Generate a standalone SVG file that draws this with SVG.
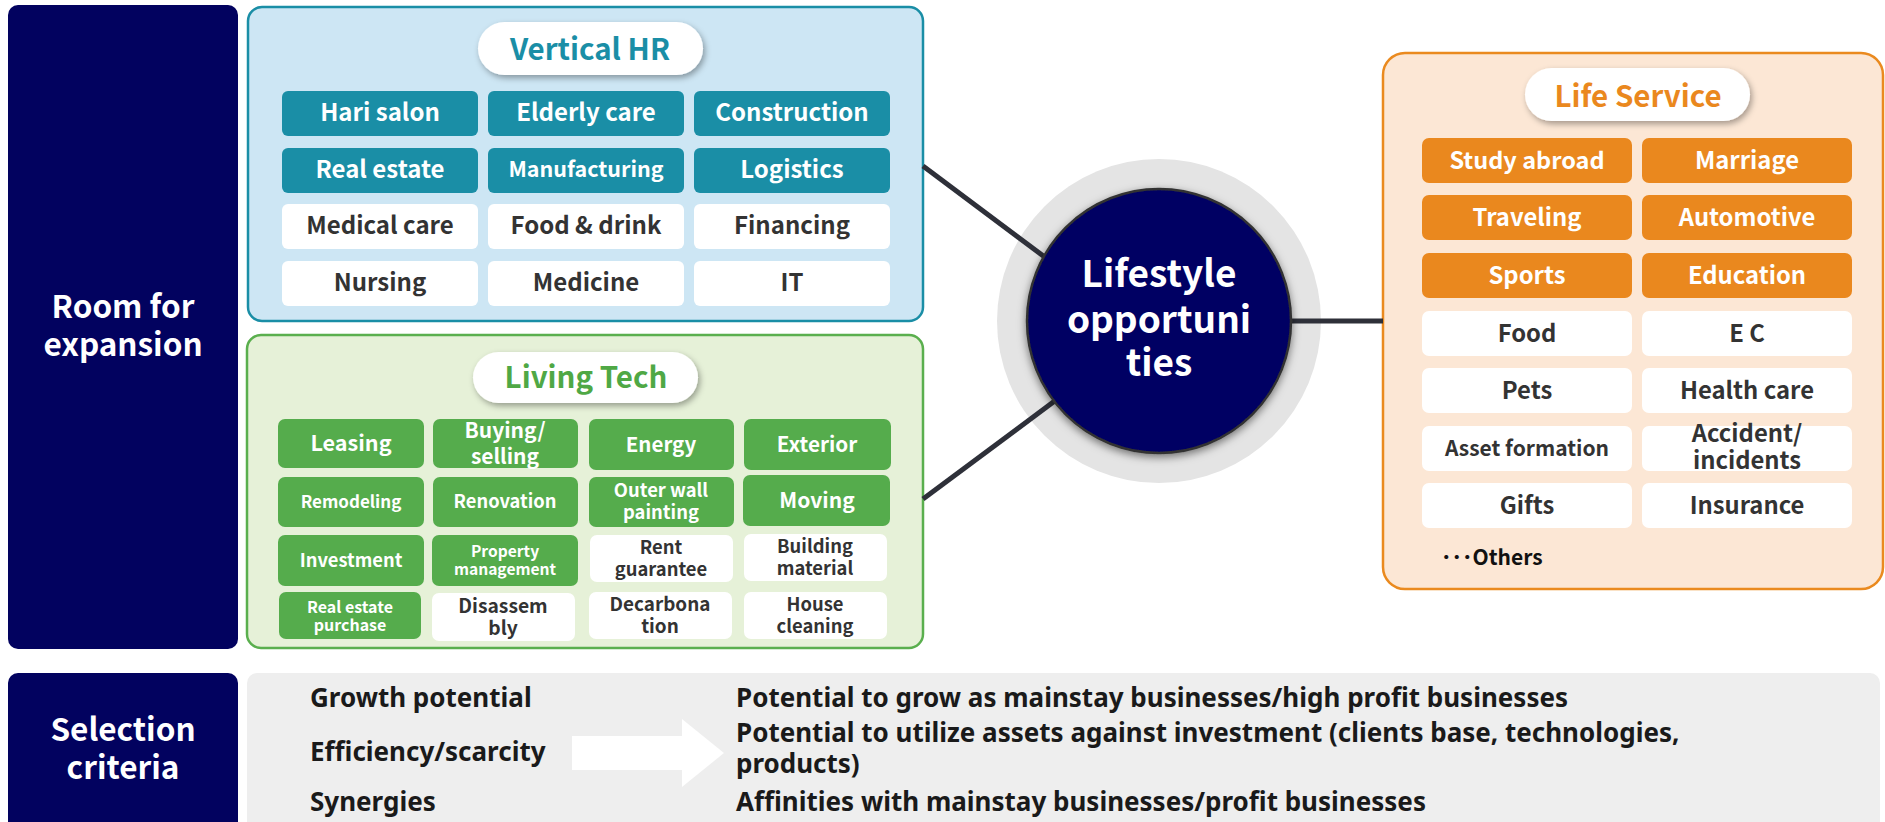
<svg xmlns="http://www.w3.org/2000/svg" width="1885" height="822" viewBox="0 0 1885 822">
<defs>
<filter id="sh" x="-20%" y="-30%" width="140%" height="170%"><feDropShadow dx="2" dy="3" stdDeviation="3" flood-color="#000" flood-opacity="0.35"/></filter>
<filter id="csh" x="-20%" y="-20%" width="140%" height="140%"><feDropShadow dx="0" dy="3" stdDeviation="4" flood-color="#000" flood-opacity="0.5"/></filter>
<style>
text{font-family:"Noto Sans CJK JP","Noto Sans",sans-serif;font-weight:700;text-anchor:middle}
.w{fill:#fff}.d{fill:#333}
.teal{fill:#1A8EA6}.grn{fill:#55AC4C}.org{fill:#EA881E}.wc{fill:#fff}
.navy{fill:#02025F}
.pill{fill:#fff;filter:url(#sh)}
.bt{font-family:"Noto Sans","Liberation Sans",sans-serif;font-size:26px;fill:#1a1a1a;text-anchor:start}
.conn{stroke:#2E3039;stroke-width:5;fill:none}
</style>
</defs>
<rect width="1885" height="822" fill="#fff"/>

<g id="room-for-expansion">
<rect class="navy" x="8" y="5" width="230" height="644" rx="10"/>
<text class="w" x="123" y="318" font-size="31.5">Room for</text>
<text class="w" x="123" y="356" font-size="31.5">expansion</text>
</g>

<g id="selection-criteria">
<rect class="navy" x="8" y="673" width="230" height="170" rx="10"/>
<text class="w" x="123" y="741" font-size="31.5">Selection</text>
<text class="w" x="123" y="779" font-size="31.5">criteria</text>
</g>

<g id="vertical-hr">
<rect x="248" y="7" width="675" height="314" rx="14" fill="#CDE6F4" stroke="#1A8EA6" stroke-width="2.5"/>
<rect class="pill" x="478" y="22" width="225" height="53" rx="26.5"/>
<text x="590" y="60" font-size="29.5" fill="#1A8EA6">Vertical HR</text>
<rect class="teal" x="282" y="91" width="196" height="45" rx="6"/>
<rect class="teal" x="488" y="91" width="196" height="45" rx="6"/>
<rect class="teal" x="694" y="91" width="196" height="45" rx="6"/>
<rect class="teal" x="282" y="148" width="196" height="45" rx="6"/>
<rect class="teal" x="488" y="148" width="196" height="45" rx="6"/>
<rect class="teal" x="694" y="148" width="196" height="45" rx="6"/>
<rect class="wc" x="282" y="204" width="196" height="45" rx="6"/>
<rect class="wc" x="488" y="204" width="196" height="45" rx="6"/>
<rect class="wc" x="694" y="204" width="196" height="45" rx="6"/>
<rect class="wc" x="282" y="261" width="196" height="45" rx="6"/>
<rect class="wc" x="488" y="261" width="196" height="45" rx="6"/>
<rect class="wc" x="694" y="261" width="196" height="45" rx="6"/>
<g font-size="24">
<text class="w" x="380" y="121">Hari salon</text>
<text class="w" x="586" y="121">Elderly care</text>
<text class="w" x="792" y="121">Construction</text>
<text class="w" x="380" y="178">Real estate</text>
<text class="w" x="586" y="177" font-size="21.5">Manufacturing</text>
<text class="w" x="792" y="178">Logistics</text>
<text class="d" x="380" y="234">Medical care</text>
<text class="d" x="586" y="234">Food &amp; drink</text>
<text class="d" x="792" y="234">Financing</text>
<text class="d" x="380" y="291">Nursing</text>
<text class="d" x="586" y="291">Medicine</text>
<text class="d" x="792" y="291">IT</text>
</g>
</g>

<g id="living-tech">
<rect x="247" y="335" width="676" height="313" rx="14" fill="#E6F1D8" stroke="#5AAF4E" stroke-width="2.5"/>
<rect class="pill" x="473" y="352" width="225" height="51" rx="25.5"/>
<text x="586" y="388" font-size="29.5" fill="#4FA845">Living Tech</text>
<rect class="grn" x="278" y="419" width="146" height="49" rx="7"/>
<rect class="grn" x="433" y="419" width="145" height="49" rx="7"/>
<rect class="grn" x="589" y="419" width="145" height="51" rx="7"/>
<rect class="grn" x="744" y="419" width="147" height="51" rx="7"/>
<rect class="grn" x="278" y="477" width="146" height="50" rx="7"/>
<rect class="grn" x="433" y="477" width="145" height="50" rx="7"/>
<rect class="grn" x="589" y="477" width="145" height="50" rx="7"/>
<rect class="grn" x="743" y="475" width="147" height="51" rx="7"/>
<rect class="grn" x="278" y="535" width="146" height="51" rx="7"/>
<rect class="grn" x="432" y="535" width="146" height="51" rx="7"/>
<rect class="wc" x="590" y="535" width="143" height="47" rx="7"/>
<rect class="wc" x="744" y="534" width="143" height="47" rx="7"/>
<rect class="grn" x="279" y="592" width="142" height="47" rx="7"/>
<rect class="wc" x="432" y="593" width="143" height="48" rx="7"/>
<rect class="wc" x="589" y="592" width="143" height="47" rx="7"/>
<rect class="wc" x="744" y="592" width="143" height="47" rx="7"/>
<text class="w" x="351" y="451" font-size="21.6">Leasing</text>
<text class="w" x="505" y="438" font-size="21">Buying/</text>
<text class="w" x="505" y="464" font-size="21">selling</text>
<text class="w" x="661" y="452" font-size="20.5">Energy</text>
<text class="w" x="817" y="452" font-size="20.7">Exterior</text>
<text class="w" x="351" y="508" font-size="17">Remodeling</text>
<text class="w" x="505" y="508" font-size="18.3">Renovation</text>
<text class="w" x="661" y="497" font-size="18.4">Outer wall</text>
<text class="w" x="661" y="519" font-size="18.4">painting</text>
<text class="w" x="817" y="508" font-size="21">Moving</text>
<text class="w" x="351" y="567" font-size="18.3">Investment</text>
<text class="w" x="505" y="557" font-size="15.6">Property</text>
<text class="w" x="505" y="575" font-size="15.6">management</text>
<text class="d" x="661" y="554" font-size="18.4">Rent</text>
<text class="d" x="661" y="576" font-size="18.4">guarantee</text>
<text class="d" x="815" y="553" font-size="18.4">Building</text>
<text class="d" x="815" y="575" font-size="18.4">material</text>
<text class="w" x="350" y="613" font-size="16">Real estate</text>
<text class="w" x="350" y="631" font-size="16">purchase</text>
<text class="d" x="503" y="613" font-size="19.3">Disassem</text>
<text class="d" x="503" y="635" font-size="19.3">bly</text>
<text class="d" x="660" y="611" font-size="18.9">Decarbona</text>
<text class="d" x="660" y="633" font-size="18.9">tion</text>
<text class="d" x="815" y="611" font-size="18.4">House</text>
<text class="d" x="815" y="633" font-size="18.4">cleaning</text>
</g>

<g id="life-service">
<rect x="1383" y="53" width="500" height="536" rx="22" fill="#FCE7D5" stroke="#EA8A1F" stroke-width="2.5"/>
<rect class="pill" x="1525" y="68" width="225" height="53" rx="26.5"/>
<text x="1638" y="107" font-size="29.5" fill="#EA881E">Life Service</text>
<rect class="org" x="1422" y="138" width="210" height="45" rx="7"/>
<rect class="org" x="1642" y="138" width="210" height="45" rx="7"/>
<rect class="org" x="1422" y="195" width="210" height="45" rx="7"/>
<rect class="org" x="1642" y="195" width="210" height="45" rx="7"/>
<rect class="org" x="1422" y="253" width="210" height="45" rx="7"/>
<rect class="org" x="1642" y="253" width="210" height="45" rx="7"/>
<rect class="wc" x="1422" y="311" width="210" height="45" rx="7"/>
<rect class="wc" x="1642" y="311" width="210" height="45" rx="7"/>
<rect class="wc" x="1422" y="368" width="210" height="45" rx="7"/>
<rect class="wc" x="1642" y="368" width="210" height="45" rx="7"/>
<rect class="wc" x="1422" y="426" width="210" height="45" rx="7"/>
<rect class="wc" x="1642" y="426" width="210" height="45" rx="7"/>
<rect class="wc" x="1422" y="483" width="210" height="45" rx="7"/>
<rect class="wc" x="1642" y="483" width="210" height="45" rx="7"/>
<g font-size="23.8">
<text class="w" x="1527" y="169" font-size="23.5">Study abroad</text>
<text class="w" x="1747" y="169">Marriage</text>
<text class="w" x="1527" y="226">Traveling</text>
<text class="w" x="1747" y="226">Automotive</text>
<text class="w" x="1527" y="284">Sports</text>
<text class="w" x="1747" y="284">Education</text>
<text class="d" x="1527" y="342">Food</text>
<text class="d" x="1747" y="342">E C</text>
<text class="d" x="1527" y="399">Pets</text>
<text class="d" x="1747" y="399">Health care</text>
<text class="d" x="1527" y="456" font-size="21">Asset formation</text>
<text class="d" x="1747" y="442">Accident/</text>
<text class="d" x="1747" y="469">incidents</text>
<text class="d" x="1527" y="514">Gifts</text>
<text class="d" x="1747" y="514">Insurance</text>
</g>
<text x="1441" y="565" font-size="21" fill="#111" style="text-anchor:start">･･･Others</text>
</g>

<g id="center-halo">
<circle cx="1159" cy="321" r="162" fill="#E4E4E4"/>
</g>

<g id="connectors">
<line class="conn" x1="923" y1="166" x2="1046" y2="258"/>
<line class="conn" x1="923" y1="499" x2="1056" y2="400"/>
<line class="conn" x1="1288" y1="321" x2="1383" y2="321"/>
</g>

<g id="lifestyle-opportunities">
<circle cx="1159" cy="321" r="132" fill="#020264" stroke="#333" stroke-width="2.5" filter="url(#csh)"/>
<text class="w" x="1159" y="287" font-size="37">Lifestyle</text>
<text class="w" x="1159" y="333" font-size="37">opportuni</text>
<text class="w" x="1159" y="376" font-size="37">ties</text>
</g>

<g id="criteria-panel">
<rect x="247" y="673" width="1633" height="170" rx="10" fill="#EEEEEE"/>
<polygon points="572,736 682,736 682,719 724,753 682,787 682,770 572,770" fill="#fff"/>
<text class="bt" x="310" y="707">Growth potential</text>
<text class="bt" x="310" y="761">Efficiency/scarcity</text>
<text class="bt" x="310" y="811">Synergies</text>
<text class="bt" x="736" y="707">Potential to grow as mainstay businesses/high profit businesses</text>
<text class="bt" x="736" y="742">Potential to utilize assets against investment (clients base, technologies,</text>
<text class="bt" x="736" y="773">products)</text>
<text class="bt" x="736" y="811">Affinities with mainstay businesses/profit businesses</text>
</g>
</svg>
